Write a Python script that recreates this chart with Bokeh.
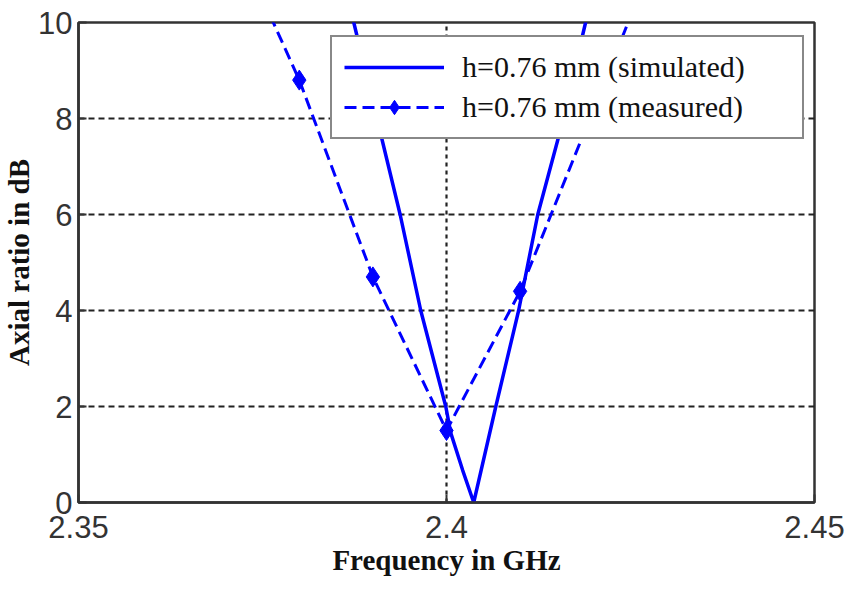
from bokeh.plotting import figure
from bokeh.models import FixedTicker, Range1d, Legend, LegendItem
from bokeh.embed import file_html
from bokeh.resources import INLINE

# Data
sim_freq = [2.3860, 2.3874, 2.3937, 2.3965, 2.3999, 2.4006, 2.4022, 2.4037,
            2.4067, 2.4098, 2.4124, 2.4152, 2.4189, 2.4200]
sim_ar = [10.9, 10.0, 6.0, 4.0, 2.0, 1.44, 0.67, 0.0,
          2.0, 4.0, 6.0, 7.6, 10.0, 10.8]

meas_freq = [2.37, 2.38, 2.39, 2.40, 2.41, 2.42, 2.43]
meas_ar = [12.2, 8.8, 4.7, 1.5, 4.4, 8.2, 12.05]

x_ticks = [2.35, 2.4, 2.45]
x_tick_labels = ["2.35", "2.4", "2.45"]
y_ticks = [0, 2, 4, 6, 8, 10]

label_sim = "h=0.76 mm (simulated)"
label_meas = "h=0.76 mm (measured)"

p = figure(width=848, height=589, output_backend="svg", toolbar_location=None,
           x_range=Range1d(2.35, 2.45), y_range=Range1d(0, 10),
           min_border_left=78, min_border_right=34, min_border_top=22,
           min_border_bottom=87)
p.background_fill_color = "white"
p.border_fill_color = "white"
p.outline_line_color = "#333333"
p.outline_line_width = 2.5

blue = "#0000ff"
r_sim = p.line(sim_freq, sim_ar, line_color=blue, line_width=3.5)
r_meas = p.line(meas_freq, meas_ar, line_color=blue, line_width=3, line_dash="12 6")
r_meas_m = p.scatter(meas_freq, meas_ar, marker="diamond", size=20,
                     fill_color=blue, line_color=blue)

# axes
for ax in (p.xaxis[0], p.yaxis[0]):
    ax.axis_line_color = "#333333"
    ax.axis_line_width = 2.5
    ax.major_tick_in = 8
    ax.major_tick_out = 0
    ax.major_tick_line_color = "#333333"
    ax.major_tick_line_width = 2
    ax.minor_tick_line_color = None
    ax.major_label_text_font = "Liberation Sans"
    ax.major_label_text_font_size = "31px"
    ax.major_label_text_color = "#333333"
    ax.axis_label_text_font = "Liberation Serif"
    ax.axis_label_text_font_style = "bold"
    ax.axis_label_text_font_size = "29px"
    ax.axis_label_text_color = "#111111"

p.xaxis.ticker = FixedTicker(ticks=x_ticks)
p.xaxis.major_label_overrides = {t: l for t, l in zip(x_ticks, x_tick_labels)}
p.xaxis.major_label_standoff = 13
p.xaxis.axis_label = "Frequency in GHz"
p.xaxis.axis_label_standoff = 3

p.yaxis.ticker = FixedTicker(ticks=y_ticks)
p.yaxis.major_label_standoff = 6
p.yaxis.axis_label = "Axial ratio in dB"
p.yaxis.axis_label_standoff = 0

# grids
p.ygrid.grid_line_color = "#222222"
p.ygrid.grid_line_width = 2.2
p.ygrid.grid_line_dash = "6 4"
p.xgrid.grid_line_color = "#222222"
p.xgrid.grid_line_width = 2.2
p.xgrid.grid_line_dash = "4 4"

legend = Legend(items=[LegendItem(label=label_sim, renderers=[r_sim]),
                       LegendItem(label=label_meas, renderers=[r_meas, r_meas_m])],
                location=(252, 363))
legend.border_line_color = "#111111"
legend.border_line_width = 2
legend.background_fill_color = "white"
legend.background_fill_alpha = 1
legend.label_text_font = "Liberation Serif"
legend.label_text_font_size = "30px"
legend.label_text_color = "#111111"
legend.glyph_width = 100
legend.glyph_height = 36
legend.label_height = 36
legend.label_width = 328
legend.label_standoff = 18
legend.padding = 12
legend.spacing = 4
legend.margin = 0
p.add_layout(legend, "center")

open("out.html", "w").write(file_html(p, INLINE))
